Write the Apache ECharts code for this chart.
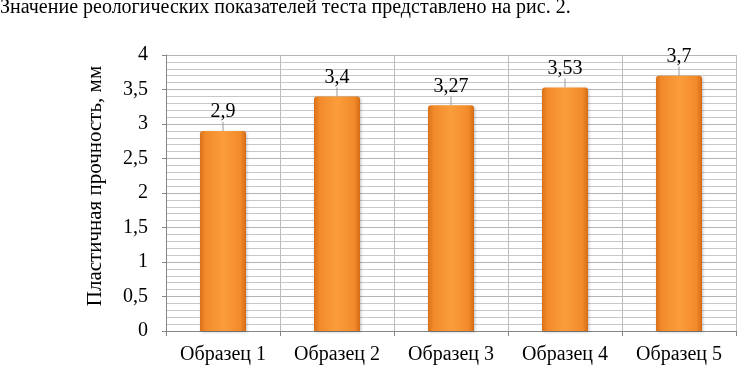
<!DOCTYPE html>
<html>
<head>
<meta charset="utf-8">
<script src="https://cdn.jsdelivr.net/npm/echarts@6/dist/echarts.min.js"></script>
<style>
  html, body { margin: 0; padding: 0; background: #fff; }
  #main { width: 737px; height: 367px; }
</style>
</head>
<body>
<div id="main"></div>
<script type="text/javascript">
    // данные с рисунка
    var categories = ['Образец 1', 'Образец 2', 'Образец 3', 'Образец 4', 'Образец 5'];
    var values = [2.9, 3.4, 3.27, 3.53, 3.7];
    var captionText = 'Значение реологических показателей теста представлено на рис. 2.';
    var yName = 'Пластичная прочность, мм';

    var myChart = echarts.init(document.getElementById('main'));
    var serif = '"Liberation Serif", "DejaVu Serif", serif';

    function comma(v) {
        return String(v).replace('.', ',');
    }

    var option = {
        animation: false,
        backgroundColor: '#fff',
        title: {
            text: captionText,
            left: 0,
            top: -2,
            padding: 0,
            textStyle: { fontFamily: serif, fontSize: 20, fontWeight: 'normal', color: '#000' }
        },
        grid: { left: 166, right: 1, top: 55, bottom: 36 },
        xAxis: {
            type: 'category',
            data: categories,
            axisLine: { lineStyle: { color: '#868686', width: 1 } },
            axisTick: { show: true, length: 5, lineStyle: { color: '#868686' } },
            splitLine: { show: true, lineStyle: { color: '#bdbdbd', width: 1 } },
            axisLabel: { fontFamily: serif, fontSize: 20, color: '#000', margin: 14 }
        },
        yAxis: {
            type: 'value',
            min: 0,
            max: 4,
            interval: 0.5,
            name: yName,
            nameLocation: 'middle',
            nameGap: 60,
            nameTextStyle: { fontFamily: serif, fontSize: 21, color: '#000', padding: [0, 0, 0, 14] },
            axisLine: { show: true, lineStyle: { color: '#868686', width: 1 } },
            axisTick: { show: true, length: 4, lineStyle: { color: '#868686' } },
            axisLabel: {
                fontFamily: serif, fontSize: 20, color: '#000', margin: 18,
                formatter: function (v) { return comma(v); }
            },
            splitLine: { show: true, lineStyle: { color: '#b4b4b4', width: 1 } },
            minorTick: { show: false, splitNumber: 5 },
            minorSplitLine: { show: true, lineStyle: { color: '#c8c8c8', width: 1 } }
        },
        series: [{
            type: 'bar',
            data: values,
            barWidth: 46,
            itemStyle: {
                borderRadius: [3, 3, 0, 0],
                color: new echarts.graphic.LinearGradient(0, 0, 1, 0, [
                    { offset: 0, color: '#d9711a' },
                    { offset: 0.12, color: '#f28a2a' },
                    { offset: 0.5, color: '#fb9d3c' },
                    { offset: 0.88, color: '#f28a2a' },
                    { offset: 1, color: '#d46c16' }
                ]),
                shadowColor: 'rgba(0,0,0,0.25)',
                shadowBlur: 3,
                shadowOffsetX: 1,
                shadowOffsetY: 1
            },
            label: {
                show: true,
                position: 'top',
                distance: 3,
                fontFamily: serif,
                fontSize: 20,
                color: '#000',
                formatter: function (p) { return comma(p.value); }
            },
            labelLayout: { dy: -6 },
            labelLine: { show: true, lineStyle: { color: '#999', width: 1 } }
        }]
    };

    myChart.setOption(option);
</script>
</body>
</html>
